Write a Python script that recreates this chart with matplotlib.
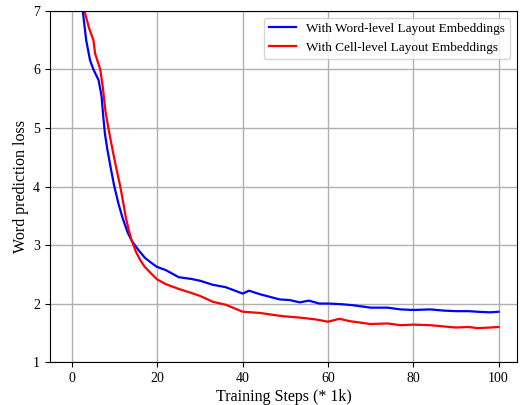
import numpy as np
import matplotlib.pyplot as plt

plt.rcParams.update({
    "font.family": "Liberation Serif",
    "font.size": 10,
    "axes.labelsize": 11.5,
    "legend.fontsize": 9.5,
})

# -----------------------------
# Data (x in k steps, y = loss)
# -----------------------------
word_x = [0, 2.5, 3.3, 4.2, 5.0, 6.2, 6.9, 7.3, 7.7, 8.3, 9.1, 9.9, 10.9,
          11.8, 13.0, 14.0, 15.5, 17.1, 18.5, 19.8, 22, 25, 28, 30, 33, 36,
          40, 41.5, 44, 48.7, 51, 53.4, 55.5, 58, 60, 63, 66, 70, 74, 77, 80,
          84, 87, 90, 93, 95, 98, 100]
word_y = [10.0, 7.0, 6.5, 6.16, 6.0, 5.82, 5.55, 5.2, 4.9, 4.62, 4.3, 4.0, 3.7,
          3.47, 3.22, 3.07, 2.92, 2.78, 2.7, 2.63, 2.57, 2.45, 2.42, 2.39, 2.32,
          2.28, 2.17, 2.22, 2.16, 2.07, 2.06, 2.02, 2.05, 2.0, 2.0, 1.99, 1.97,
          1.93, 1.93, 1.90, 1.89, 1.90, 1.88, 1.87, 1.87, 1.86, 1.85, 1.86]

cell_x = [0, 2.9, 4.0, 5.0, 5.4, 6.6, 7.2, 7.8, 8.5, 9.5, 10.4, 11.3, 12.0,
          12.6, 13.3, 14.0, 15.0, 16.0, 17.0, 18.3, 19.4, 20, 22, 25, 28, 30,
          33, 36, 40, 44, 48.7, 50, 53.4, 57, 60, 62.7, 65, 68, 70, 74, 77,
          80, 84, 87, 90, 93, 95, 98, 100]
cell_y = [10.0, 7.0, 6.7, 6.5, 6.27, 6.0, 5.7, 5.3, 5.0, 4.62, 4.3, 4.0, 3.72,
          3.47, 3.25, 3.07, 2.88, 2.74, 2.63, 2.53, 2.45, 2.41, 2.33, 2.25,
          2.18, 2.13, 2.03, 1.98, 1.86, 1.84, 1.79, 1.78, 1.76, 1.73, 1.69,
          1.74, 1.70, 1.67, 1.65, 1.66, 1.63, 1.64, 1.63, 1.61, 1.59, 1.60,
          1.58, 1.59, 1.60]

labels = ["With Word-level Layout Embeddings",
          "With Cell-level Layout Embeddings"]

# -----------------------------
# Plot
# -----------------------------
fig = plt.figure(figsize=(5.2, 4.05), dpi=100)
ax = fig.add_axes([0.096, 0.106, 0.898, 0.867])

ax.plot(word_x, word_y, color="blue", linewidth=1.6, label=labels[0])
ax.plot(cell_x, cell_y, color="red", linewidth=1.6, label=labels[1])

ax.set_xlim(-5.2, 104.3)
ax.set_ylim(1, 7)
ax.set_xticks(np.arange(0, 101, 20))
ax.set_yticks(np.arange(1, 8, 1))
ax.grid(True, color="#b0b0b0", linewidth=1.0)
ax.set_axisbelow(True)

ax.set_xlabel("Training Steps (* 1k)", labelpad=3)
ax.set_ylabel("Word prediction loss", labelpad=3)
ax.legend(loc="upper right")

plt.savefig("out.png", dpi=100)
